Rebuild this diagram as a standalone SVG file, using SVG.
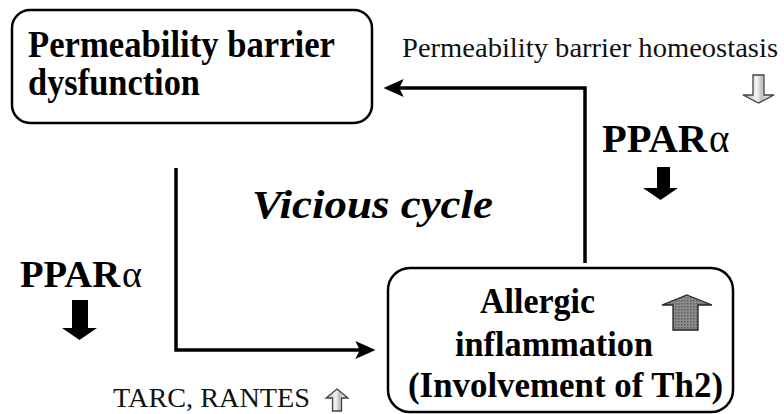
<svg xmlns="http://www.w3.org/2000/svg" width="784" height="414" viewBox="0 0 784 414">
  <style>
    .box { fill: #ffffff; stroke: #000000; stroke-width: 2.5; }
    .conn { fill: none; stroke: #000; stroke-width: 3.5; }
    .black { fill: #000; }
    .light { fill: url(#lightStripe); stroke: #444; stroke-width: 1.3; }
    .dark { fill: url(#darkGrid); stroke: #222; stroke-width: 1.3; }
  </style>
  <defs>
    <marker id="ah" markerUnits="userSpaceOnUse" markerWidth="20" markerHeight="18" viewBox="0 0 18 16" refX="6" refY="8" orient="auto">
      <path d="M0,0 L18,8 L0,16 L4,8 z" fill="#000"/>
    </marker>
    <linearGradient id="lightStripe" x1="0" y1="0" x2="1" y2="0">
      <stop offset="0" stop-color="#7a7a7a"/>
      <stop offset="0.2" stop-color="#d0d0d0"/>
      <stop offset="0.45" stop-color="#f4f4f4"/>
      <stop offset="0.6" stop-color="#c0c0c0"/>
      <stop offset="0.8" stop-color="#e0e0e0"/>
      <stop offset="1" stop-color="#6a6a6a"/>
    </linearGradient>
    <pattern id="darkGrid" width="3" height="3" patternUnits="userSpaceOnUse">
      <rect width="3" height="3" fill="#8c8c8c"/>
      <rect width="1.5" height="1.5" fill="#5e5e5e"/>
    </pattern>
  </defs>

  <g id="connectors">
    <path class="conn" d="M176,168 V350 H362" marker-end="url(#ah)"/>
    <path class="conn" d="M585,263 V88 H397" marker-end="url(#ah)"/>
  </g>

  <g id="node-barrier-dysfunction" font-family="Liberation Serif, serif" font-weight="bold">
    <rect class="box" x="12" y="10" width="360" height="113" rx="18" ry="18"/>
    <text x="28" y="57" font-size="38" textLength="307" lengthAdjust="spacingAndGlyphs">Permeability  barrier</text>
    <text x="28" y="95" font-size="38" textLength="172" lengthAdjust="spacingAndGlyphs">dysfunction</text>
  </g>

  <g id="node-allergic-inflammation" font-family="Liberation Serif, serif" font-weight="bold">
    <rect class="box" x="388" y="268" width="345" height="144" rx="22" ry="22"/>
    <text x="480" y="313" font-size="35" textLength="115" lengthAdjust="spacingAndGlyphs">Allergic</text>
    <text x="455" y="356" font-size="35" textLength="198" lengthAdjust="spacingAndGlyphs">inflammation</text>
    <text x="408" y="397" font-size="35" textLength="315" lengthAdjust="spacingAndGlyphs">(Involvement  of Th2)</text>
    <path class="dark" d="M687,295 L712,305 L698,305 L698,330 L673,330 L673,305 L662,305 z"/>
  </g>

  <g id="label-vicious-cycle" font-family="Liberation Serif, serif" font-weight="bold" font-style="italic">
    <text x="252" y="218" font-size="40" textLength="241" lengthAdjust="spacingAndGlyphs">Vicious cycle</text>
  </g>

  <g id="label-homeostasis" font-family="Liberation Serif, serif">
    <text x="402" y="57" font-size="27" fill="#111" textLength="376" lengthAdjust="spacingAndGlyphs">Permeability barrier homeostasis</text>
    <path class="light" d="M753,75 L764,75 L764,95 L774,95 L758.5,103 L743,95 L753,95 z"/>
  </g>

  <g id="label-ppar-right" font-family="Liberation Serif, serif">
    <text x="602" y="152" font-size="39" font-weight="bold" textLength="105" lengthAdjust="spacingAndGlyphs">PPAR</text>
    <text x="709" y="152" font-size="39">α</text>
    <path class="black" d="M657,167 L670,167 L670,188 L678,188 L660.5,200 L643,188 L657,188 z"/>
  </g>

  <g id="label-ppar-left" font-family="Liberation Serif, serif">
    <text x="20" y="287" font-size="38" font-weight="bold" textLength="100" lengthAdjust="spacingAndGlyphs">PPAR</text>
    <text x="122" y="287" font-size="38">α</text>
    <path class="black" d="M72,300 L88,300 L88,328 L97,328 L79.5,340 L62,328 L72,328 z"/>
  </g>

  <g id="label-tarc" font-family="Liberation Serif, serif">
    <text x="113" y="407" font-size="27" fill="#111" textLength="197" lengthAdjust="spacingAndGlyphs">TARC, RANTES</text>
    <path class="light" d="M337,389 L348,398 L341.5,398 L341.5,411 L332.5,411 L332.5,398 L326,398 z"/>
  </g>
</svg>
